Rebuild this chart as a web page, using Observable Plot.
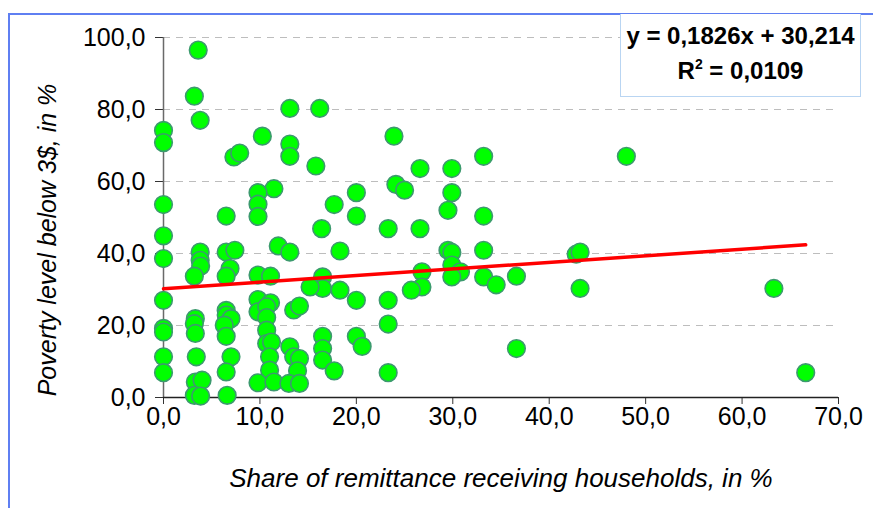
<!DOCTYPE html>
<html>
<head>
<meta charset="utf-8">
<script src="https://cdn.jsdelivr.net/npm/d3@7"></script>
<script src="https://cdn.jsdelivr.net/npm/@observablehq/plot@0.6"></script>
<style>
  html, body { margin: 0; padding: 0; background: #fff; }
  #wrap { position: relative; width: 873px; height: 508px; overflow: hidden; background: #fff; }
  #frame { position: absolute; left: 8px; top: 13px; width: 1000px; height: 1000px;
           border-left: 2px solid #5f7ff2; border-top: 2px solid #5f7ff2; pointer-events: none; }
  #eq { position: absolute; left: 620px; top: 14px; width: 241px; height: 83px;
        border: 1px solid #b9d5f2; border-top: none; background: #fff;
        font-family: "Liberation Sans", Arial, sans-serif; font-weight: bold; font-size: 24px;
        color: #000; text-align: center; line-height: 35px; padding-top: 4px; box-sizing: border-box; }
  #eq sup { font-size: 14px; line-height: 0; position: relative; top: -1px; }
</style>
</head>
<body>
<div id="wrap"></div>
<script>
// Share of remittance receiving households, in %
const xs = [
  3.6, 3.2, 3.8, 0, 0, 7.3, 7.9, 10.25, 13.1, 16.2,
  13.1, 13.1, 15.8, 11.45, 9.8, 9.8, 9.8, 0, 6.5, 23.9,
  17.7, 20.0, 20.0, 24.1, 25.0, 26.6, 29.9, 33.2, 29.9, 29.5,
  33.2, 16.4, 23.3, 26.6, 18.3, 29.5, 29.9, 33.2, 29.9, 30.8,
  29.9, 26.8, 26.8, 25.7, 33.2, 34.5, 36.6, 16.5, 16.5, 15.2,
  18.3, 20.0, 23.3, 23.3, 23.3, 16.5, 16.5, 16.5, 17.7, 20.0,
  20.6, 36.6, 0, 0, 0, 0, 0, 0, 0, 3.8,
  3.8, 3.85, 3.2, 6.5, 7.4, 6.9, 6.5, 11.9, 13.1, 9.8,
  11.1, 9.8, 9.8, 11.1, 10.7, 10.7, 13.5, 14.1, 3.3, 3.2,
  3.3, 6.5, 6.5, 7.0, 6.3, 6.5, 10.7, 10.7, 11.2, 11.0,
  11.0, 13.1, 13.5, 14.1, 13.9, 9.8, 11.45, 13.0, 14.1, 3.4,
  3.3, 4.0, 3.2, 3.85, 7.0, 6.5, 6.6, 48.0, 42.8, 43.2,
  43.2, 63.3, 66.6
];
// Poverty level below 3$, in %
const ys = [
  96.5, 83.7, 77.0, 74.2, 70.8, 66.8, 67.9, 72.6, 80.3, 80.3,
  70.4, 67.0, 64.3, 58.0, 56.9, 53.7, 50.3, 53.6, 50.4, 72.6,
  53.6, 56.9, 50.4, 59.2, 57.6, 63.6, 63.6, 67.0, 56.9, 52.0,
  50.4, 46.9, 46.9, 46.9, 40.7, 40.9, 40.3, 40.9, 36.8, 34.9,
  33.5, 34.9, 30.7, 29.8, 33.5, 31.3, 33.7, 33.5, 30.3, 30.7,
  29.8, 27.0, 27.0, 20.4, 6.9, 17.0, 13.6, 10.4, 7.4, 17.0,
  14.2, 13.6, 44.9, 38.6, 27.0, 19.2, 18.2, 11.3, 6.9, 40.4,
  38.1, 36.5, 33.7, 40.4, 40.9, 35.8, 33.7, 42.1, 40.4, 34.0,
  33.7, 27.2, 23.8, 26.3, 25.2, 22.2, 24.3, 25.4, 21.9, 20.5,
  17.8, 24.2, 22.9, 21.9, 20.1, 17.0, 18.7, 15.0, 15.4, 11.3,
  7.6, 14.1, 11.3, 10.8, 7.4, 4.1, 4.3, 3.9, 3.9, 11.3,
  4.3, 4.8, 0.6, 0.4, 11.3, 7.1, 0.6, 67.0, 39.8, 40.4,
  30.3, 30.3, 6.9
];
// linear trend line endpoints (y = 0,1826x + 30,214)
const trendX = [0, 66.6];
const trendY = [30.2, 42.4];

const xTicks = [0, 10, 20, 30, 40, 50, 60, 70];
const yTicks = [0, 20, 40, 60, 80, 100];
const gridTicks = [20, 40, 60, 80, 100];

const xTitle = "Share of remittance receiving households, in %";
const yTitle = "Poverty level below 3$, in %";
const eqLine1 = "y = 0,1826x + 30,214";
const eqLine2 = "R<sup>2</sup> = 0,0109";

const points = xs.map((x, i) => ({x, y: ys[i]}));
const trend = trendX.map((x, i) => ({x, y: trendY[i]}));
const fmt = d => d.toFixed(1).replace(".", ",");

const chart = Plot.plot({
  width: 873,
  height: 508,
  marginLeft: 163,
  marginRight: 35,
  marginTop: 37,
  marginBottom: 111,
  style: {fontFamily: "'Liberation Sans', Arial, sans-serif", fontSize: "25px", background: "#fff", color: "#000"},
  x: {domain: [0, 70]},
  y: {domain: [0, 100]},
  marks: [
    Plot.gridY(gridTicks, {stroke: "#bdbdbd", strokeOpacity: 1, strokeDasharray: "7,6"}),
    Plot.axisY(yTicks, {tickFormat: fmt, tickSize: 8, tickPadding: 10, label: null, stroke: "#333"}),
    Plot.axisX(xTicks, {tickFormat: fmt, tickSize: 7, tickPadding: 3, label: null, stroke: "#333"}),
    Plot.ruleX([0], {stroke: "#6a6a6a", strokeWidth: 1.5}),
    Plot.ruleY([0], {stroke: "#222", strokeWidth: 1.5}),
    Plot.dot(points, {x: "x", y: "y", r: 8.8, fill: "#00ff00", fillOpacity: 1, stroke: "#3c9a6e", strokeWidth: 1.6}),
    Plot.line(trend, {x: "x", y: "y", stroke: "#ff0000", strokeWidth: 3.5})
  ]
});

const wrap = document.getElementById("wrap");
wrap.appendChild(chart);

const svg = d3.select(chart);
svg.append("text")
  .attr("transform", "translate(47,240) rotate(-90)")
  .attr("text-anchor", "middle")
  .attr("dominant-baseline", "central")
  .style("font-style", "italic")
  .style("font-size", "25px")
  .attr("fill", "#000")
  .text(yTitle);
svg.append("text")
  .attr("x", 501)
  .attr("y", 478)
  .attr("text-anchor", "middle")
  .attr("dominant-baseline", "central")
  .style("font-style", "italic")
  .style("font-size", "26px")
  .attr("fill", "#000")
  .text(xTitle);

const frame = document.createElement("div");
frame.id = "frame";
wrap.appendChild(frame);

const eq = document.createElement("div");
eq.id = "eq";
eq.innerHTML = eqLine1 + "<br>" + eqLine2;
wrap.appendChild(eq);
</script>
</body>
</html>
